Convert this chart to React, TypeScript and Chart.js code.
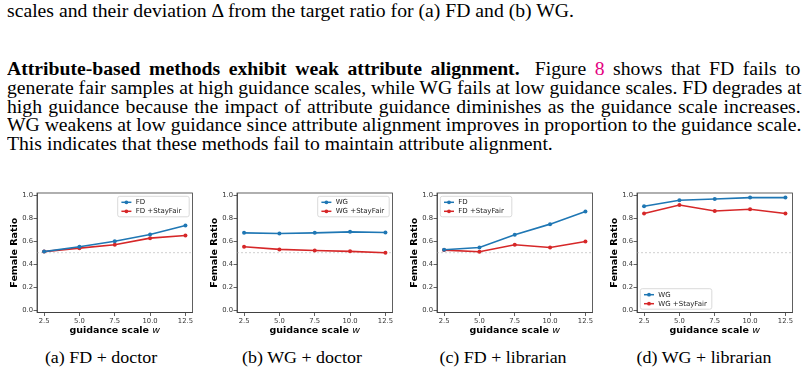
import React, { useEffect, useLayoutEffect, useRef } from "react";
import { Chart, registerables } from "chart.js";

Chart.register(...registerables);

// guidance scale values on the x axis
const GUIDANCE = [2.5, 5.0, 7.5, 10.0, 12.5];
const X_TICKS = [2.5, 5.0, 7.5, 10.0, 12.5];
const Y_TICKS = [0.0, 0.2, 0.4, 0.6, 0.8, 1.0];
const TARGET_RATIO = 0.5;

// female ratio per guidance scale
const FD_DOCTOR = [0.51, 0.552, 0.6, 0.659, 0.737];
const FD_DOCTOR_STAYFAIR = [0.51, 0.54, 0.569, 0.627, 0.65];
const WG_DOCTOR = [0.673, 0.668, 0.673, 0.682, 0.676];
const WG_DOCTOR_STAYFAIR = [0.552, 0.529, 0.52, 0.512, 0.5];
const FD_LIBRARIAN = [0.526, 0.546, 0.656, 0.749, 0.858];
const FD_LIBRARIAN_STAYFAIR = [0.523, 0.509, 0.569, 0.546, 0.598];
const WG_LIBRARIAN = [0.905, 0.957, 0.968, 0.98, 0.98];
const WG_LIBRARIAN_STAYFAIR = [0.841, 0.916, 0.864, 0.879, 0.841];

const BLUE = "#1f77b4";
const RED = "#d62728";
const SERIF = '"Liberation Serif", "Times New Roman", serif';
const SANS = '"DejaVu Sans", sans-serif';

type LegendLoc = "upper right" | "upper left" | "lower left";

interface PanelSpec {
  method: string;
  base: number[];
  fair: number[];
  legend: LegendLoc;
  caption: string;
}

const PANELS: PanelSpec[] = [
  { method: "FD", base: FD_DOCTOR, fair: FD_DOCTOR_STAYFAIR, legend: "upper right", caption: "(a) FD + doctor" },
  { method: "WG", base: WG_DOCTOR, fair: WG_DOCTOR_STAYFAIR, legend: "upper right", caption: "(b) WG + doctor" },
  { method: "FD", base: FD_LIBRARIAN, fair: FD_LIBRARIAN_STAYFAIR, legend: "upper left", caption: "(c) FD + librarian" },
  { method: "WG", base: WG_LIBRARIAN, fair: WG_LIBRARIAN_STAYFAIR, legend: "lower left", caption: "(d) WG + librarian" },
];

// spines, target line, legend and x label in matplotlib style
const decor = {
  id: "decor",
  beforeDatasetsDraw(chart: any) {
    const { ctx, chartArea: a, scales } = chart;
    const y = scales.y.getPixelForValue(TARGET_RATIO);
    ctx.save();
    ctx.strokeStyle = "#c4c4c4";
    ctx.lineWidth = 0.8;
    ctx.setLineDash([2, 2]);
    ctx.beginPath();
    ctx.moveTo(a.left, y);
    ctx.lineTo(a.right, y);
    ctx.stroke();
    ctx.restore();
  },
  afterDraw(chart: any, _args: any, opts: any) {
    const { ctx, chartArea: a } = chart;
    ctx.save();
    // box around the axes
    ctx.strokeStyle = "#3a3a3a";
    ctx.lineWidth = 0.8;
    ctx.strokeRect(a.left, a.top, a.right - a.left, a.bottom - a.top);

    // legend
    const loc: LegendLoc = opts.loc;
    const w = 71.5;
    const h = 20.5;
    const inset = 3.3;
    const x0 = loc.includes("right") ? a.right - inset - w : a.left + inset;
    const y0 = loc.includes("upper") ? a.top + inset : a.bottom - inset - h;
    ctx.beginPath();
    ctx.roundRect(x0, y0, w, h, 2);
    ctx.fillStyle = "rgba(255,255,255,0.85)";
    ctx.fill();
    ctx.strokeStyle = "#d0d0d0";
    ctx.lineWidth = 0.8;
    ctx.stroke();
    chart.data.datasets.forEach((ds: any, i: number) => {
      const yy = y0 + 6 + i * 9;
      ctx.strokeStyle = ds.borderColor;
      ctx.lineWidth = 1.5;
      ctx.beginPath();
      ctx.moveTo(x0 + 3.7, yy);
      ctx.lineTo(x0 + 13.7, yy);
      ctx.stroke();
      ctx.fillStyle = ds.borderColor;
      ctx.beginPath();
      ctx.arc(x0 + 8.7, yy, 1.9, 0, Math.PI * 2);
      ctx.fill();
      ctx.fillStyle = "#222";
      ctx.font = `7px ${SANS}`;
      ctx.textBaseline = "middle";
      ctx.textAlign = "left";
      ctx.fillText(ds.label, x0 + 18, yy + 0.3);
    });

    // x axis label: bold words followed by an italic w
    const cx = (a.left + a.right) / 2;
    const cy = 145.5;
    const boldFont = `bold 9.5px ${SANS}`;
    const italFont = `oblique 9.5px ${SANS}`;
    const main = "guidance scale ";
    ctx.font = boldFont;
    const w1 = ctx.measureText(main).width;
    ctx.font = italFont;
    const w2 = ctx.measureText("w").width;
    const sx = cx - (w1 + w2) / 2;
    ctx.fillStyle = "#000";
    ctx.textBaseline = "middle";
    ctx.textAlign = "left";
    ctx.font = boldFont;
    ctx.fillText(main, sx, cy);
    ctx.font = italFont;
    ctx.fillText("w", sx + w1, cy);
    ctx.restore();
  },
};

function Panel({ spec, left }: { spec: PanelSpec; left: number }) {
  const ref = useRef<HTMLCanvasElement>(null);
  useEffect(() => {
    const tickFont = { family: SANS, size: 6.8 };
    const chart = new Chart(ref.current!, {
      type: "line",
      data: {
        datasets: [
          {
            label: spec.method,
            data: GUIDANCE.map((x, i) => ({ x, y: spec.base[i] })),
            borderColor: BLUE,
            backgroundColor: BLUE,
            borderWidth: 1.6,
            pointRadius: 2,
            pointBorderWidth: 0,
            tension: 0,
          },
          {
            label: spec.method + " +StayFair",
            data: GUIDANCE.map((x, i) => ({ x, y: spec.fair[i] })),
            borderColor: RED,
            backgroundColor: RED,
            borderWidth: 1.6,
            pointRadius: 2,
            pointBorderWidth: 0,
            tension: 0,
          },
        ],
      },
      options: {
        responsive: false,
        animation: false,
        devicePixelRatio: 1,
        events: [],
        layout: { padding: { top: 8, right: 7.5, left: 0, bottom: 0 } },
        plugins: {
          legend: { display: false },
          tooltip: { enabled: false },
          decor: { loc: spec.legend },
        } as any,
        scales: {
          x: {
            type: "linear",
            min: 2,
            max: 13,
            afterBuildTicks: (s: any) => {
              s.ticks = X_TICKS.map((v) => ({ value: v }));
            },
            afterFit: (s: any) => {
              s.height = 27.5;
            },
            ticks: {
              callback: (v: any) => Number(v).toFixed(1),
              font: tickFont,
              color: "#333",
              padding: 1,
              maxRotation: 0,
              autoSkip: false,
            },
            grid: { drawOnChartArea: false, tickLength: 3.5, tickColor: "#3a3a3a", tickWidth: 0.8 },
            border: { color: "#3a3a3a", width: 0.8 },
          },
          y: {
            type: "linear",
            min: -0.02,
            max: 1.02,
            afterBuildTicks: (s: any) => {
              s.ticks = Y_TICKS.map((v) => ({ value: v }));
            },
            afterFit: (s: any) => {
              s.width = 37;
            },
            ticks: {
              callback: (v: any) => Number(v).toFixed(1),
              font: tickFont,
              color: "#333",
              padding: 0.5,
              autoSkip: false,
            },
            grid: { drawOnChartArea: false, tickLength: 3.5, tickColor: "#3a3a3a", tickWidth: 0.8 },
            border: { color: "#3a3a3a", width: 0.8 },
            title: {
              display: true,
              text: "Female Ratio",
              color: "#000",
              font: { family: SANS, size: 9.5, weight: "bold" },
              padding: { top: 9.3, bottom: 0 },
            },
          },
        },
      } as any,
      plugins: [decor],
    });
    return () => chart.destroy();
  }, [spec]);
  return (
    <canvas
      ref={ref}
      width={200}
      height={155}
      style={{ position: "absolute", left, top: 185, width: 200, height: 155 }}
    />
  );
}

const BODY_SIZE = 18;
const BODY_SX = 1.094;
const LINE_LEFT = 7;
const LINE_WIDTH = 794;

export default function App() {
  const justified = useRef<(HTMLDivElement | null)[]>([]);

  useLayoutEffect(() => {
    justified.current.forEach((el) => {
      if (!el) return;
      el.style.wordSpacing = "0px";
      const natural = el.scrollWidth;
      const spaces = (el.textContent || "").split(" ").length - 1;
      const target = LINE_WIDTH / BODY_SX;
      if (spaces > 0) el.style.wordSpacing = `${(target - natural) / spaces}px`;
    });
  }, []);

  const lineStyle = (top: number): React.CSSProperties => ({
    position: "absolute",
    left: LINE_LEFT,
    top,
    fontFamily: SERIF,
    fontSize: BODY_SIZE,
    lineHeight: `${BODY_SIZE}px`,
    whiteSpace: "nowrap",
    display: "inline-block",
    transform: `scaleX(${BODY_SX})`,
    transformOrigin: "0 0",
    color: "#000",
  });

  const paraTop = 60;
  const paraStep = 18.8;
  const paraLines: React.ReactNode[] = [
    <>
      <b>Attribute-based methods exhibit weak attribute alignment.</b>
      <span style={{ display: "inline-block", width: 6 }} /> Figure{" "}
      <span style={{ color: "#e4007f" }}>8</span> shows that FD fails to
    </>,
    <>generate fair samples at high guidance scales, while WG fails at low guidance scales. FD degrades at</>,
    <>high guidance because the impact of attribute guidance diminishes as the guidance scale increases.</>,
    <>WG weakens at low guidance since attribute alignment improves in proportion to the guidance scale.</>,
  ];

  return (
    <div
      style={{
        position: "absolute",
        left: 0,
        top: 0,
        width: 808,
        height: 374,
        background: "#fff",
        overflow: "hidden",
      }}
    >
      <div style={lineStyle(2)}>scales and their deviation Δ from the target ratio for (a) FD and (b) WG.</div>
      {paraLines.map((content, i) => (
        <div
          key={i}
          ref={(el) => {
            justified.current[i] = el;
          }}
          style={lineStyle(paraTop + paraStep * i)}
        >
          {content}
        </div>
      ))}
      <div style={lineStyle(paraTop + paraStep * 4)}>
        This indicates that these methods fail to maintain attribute alignment.
      </div>

      {PANELS.map((p, i) => (
        <Panel key={i} spec={p} left={i * 200} />
      ))}

      {PANELS.map((p, i) => (
        <div
          key={"c" + i}
          style={{
            position: "absolute",
            left: 101 + 201 * i - 100,
            top: 348.5,
            width: 200,
            textAlign: "center",
            fontFamily: SERIF,
            fontSize: 17,
            lineHeight: "17px",
            whiteSpace: "nowrap",
            transform: "scaleX(1.055)",
            transformOrigin: "50% 0",
            color: "#000",
          }}
        >
          {p.caption}
        </div>
      ))}
    </div>
  );
}
